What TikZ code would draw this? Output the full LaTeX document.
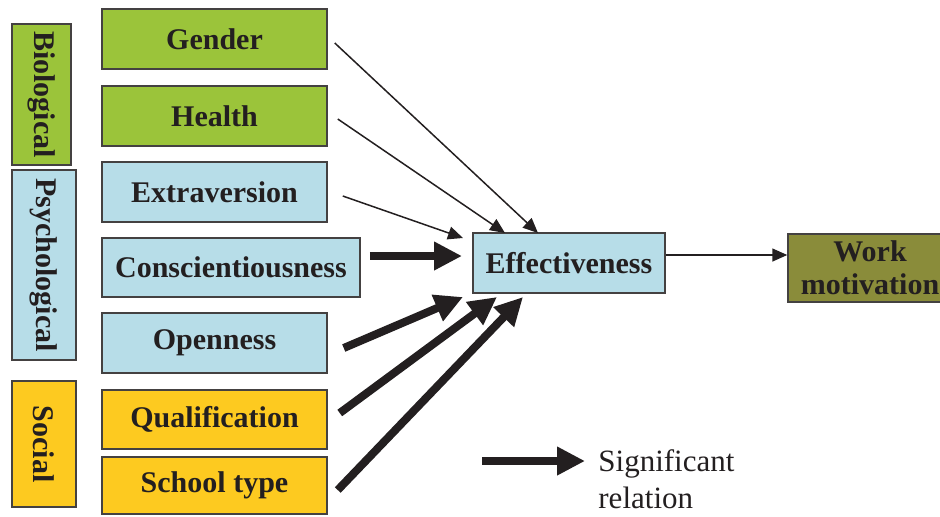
\documentclass[tikz,border=0pt]{standalone}
\usepackage{fontspec}
\setmainfont{Liberation Serif}
\usetikzlibrary{arrows.meta,calc}
\definecolor{biogreen}{HTML}{9BC43A}
\definecolor{psyblue}{HTML}{B7DDE8}
\definecolor{socyellow}{HTML}{FDCA20}
\definecolor{motolive}{HTML}{8A8C3A}
\definecolor{ink}{HTML}{231F20}

\begin{document}
\begin{tikzpicture}[x=0.5pt,y=-0.5pt,
  box/.style={draw=ink!85,line width=0.75pt,inner sep=0pt,text=ink,
    font=\bfseries\fontsize{15}{16.5}\selectfont,
    minimum width=112.5pt,minimum height=30pt,fill=#1},
  group/.style={box=#1,rotate=-90,minimum height=32pt},
  thinarrow/.style={draw=ink,line width=0.75pt,-{Triangle[length=7.5pt,width=6.5pt]}},
  sigarrow/.style={draw=ink,line width=4pt,-{Triangle[length=14pt,width=13.5pt]}}
  ]
\useasboundingbox (0,0) rectangle (940,516);
% groups
\node[group=biogreen,minimum width=70.5pt,minimum height=29.5pt] (bio) at (41.5,94.5) {Biological};
\node[group=psyblue,minimum width=95pt] (psy) at (44,265) {Psychological};
\node[group=socyellow,minimum width=63pt] (soc) at (44,444) {Social};
% factors
\node[box=biogreen] (gen) at (214.5,39) {Gender};
\node[box=biogreen] (hea) at (214.5,116) {Health};
\node[box=psyblue] (ext) at (214.5,192) {Extraversion};
\node[box=psyblue,minimum width=129pt,minimum height=29.5pt] (con) at (231,267.5) {Conscientiousness};
\node[box=psyblue] (ope) at (214.5,343) {Openness};
\node[box=socyellow,minimum height=29.5pt] (qua) at (214.5,419.5) {Qualification};
\node[box=socyellow,minimum height=28.5pt] (sch) at (214.5,485.5) {School type};
\node[box=psyblue,minimum width=96pt] (eff) at (569,263) {Effectiveness};
\node[box=motolive,minimum width=82pt,minimum height=34pt,align=center,
  font=\bfseries\fontsize{15}{16.5}\selectfont] (work) at (870,268) {Work\\motivation};
% arrow tips
\coordinate (tGen) at (538,233);
\coordinate (tHea) at (505,233);
\coordinate (tExt) at (463,238);
\coordinate (tCon) at (462,256);
\coordinate (tOpe) at (463,297);
\coordinate (tQua) at (497,297);
\coordinate (tSch) at (523,297);
\draw[thinarrow] ([shift={(7,4)}]gen.east) -- (tGen);
\draw[thinarrow] ([shift={(10,3)}]hea.east) -- (tHea);
\draw[thinarrow] ([shift={(15,4)}]ext.east) -- (tExt);
\draw[sigarrow] ([shift={(9,-11.5)}]con.east) -- (tCon);
\draw[sigarrow] ([shift={(16,5)}]ope.east) -- (tOpe);
\draw[sigarrow] ([shift={(12,-6.5)}]qua.east) -- (tQua);
\draw[sigarrow] ([shift={(10,4.5)}]sch.east) -- (tSch);
\draw[thinarrow] ([yshift=4pt]eff.east) -- ([yshift=6.5pt]work.west);
% legend
\coordinate (legStart) at (482,461);
\node[anchor=north west,inner sep=0pt,align=left,text=ink,
  font=\fontsize{15.5}{18.5}\selectfont] (sig) at (598,449) {Significant\\relation};
\draw[sigarrow] (legStart) -- ([shift={(-13,12)}]sig.north west);
\end{tikzpicture}
\end{document}
